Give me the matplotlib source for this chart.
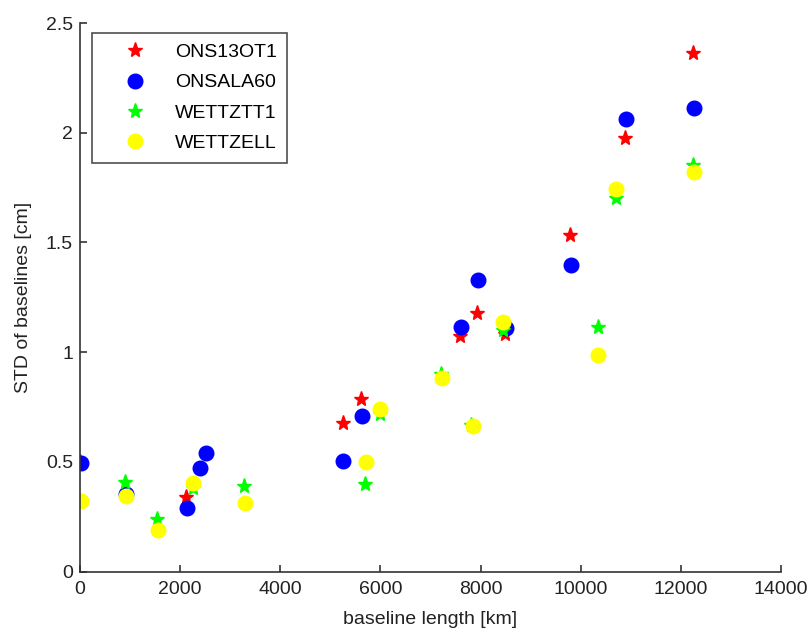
import matplotlib
matplotlib.use("Agg")
import matplotlib.pyplot as plt

plt.rcParams['font.family'] = ['Liberation Sans', 'DejaVu Sans']

# baseline length [km] / STD [cm] per station
ons13_x = [0, 2110, 5246, 5608, 7598, 7919, 8496, 9795, 10888, 12241]
ons13_y = [0.50, 0.339, 0.676, 0.787, 1.075, 1.180, 1.081, 1.534, 1.977, 2.364]

onsala_x = [14, 912, 2137, 2398, 2526, 5260, 5622, 7618, 7940, 8509, 9809, 10900, 12254]
onsala_y = [0.497, 0.356, 0.292, 0.474, 0.542, 0.504, 0.711, 1.116, 1.329, 1.112, 1.397, 2.062, 2.114]

wtz_x = [0, 905, 1541, 2250, 3270, 5700, 6000, 7200, 7800, 8450, 10338, 10700, 12241]
wtz_y = [0.32, 0.407, 0.240, 0.38, 0.392, 0.40, 0.72, 0.90, 0.67, 1.10, 1.116, 1.701, 1.853]

wettzell_x = [14, 918, 1554, 2265, 3296, 5708, 5997, 7222, 7839, 8442, 10352, 10700, 12254]
wettzell_y = [0.322, 0.345, 0.190, 0.403, 0.314, 0.498, 0.740, 0.884, 0.665, 1.139, 0.987, 1.742, 1.820]

xticks = [0, 2000, 4000, 6000, 8000, 10000, 12000, 14000]
yticks = [0, 0.5, 1, 1.5, 2, 2.5]
ytick_labels = ['0', '0.5', '1', '1.5', '2', '2.5']

fig = plt.figure(figsize=(8.07, 6.28), dpi=100)
ax = fig.add_axes([80 / 807, 56.3 / 628, 701 / 807, 548.7 / 628])

ax.plot(ons13_x, ons13_y, linestyle='none', marker='*', color='#ff0000',
        markersize=11, label='ONS13OT1')
ax.plot(onsala_x, onsala_y, linestyle='none', marker='o', color='#0000ff',
        markersize=10.5, label='ONSALA60')
ax.plot(wtz_x, wtz_y, linestyle='none', marker='*', color='#00ff00',
        markersize=11, label='WETTZTT1')
ax.plot(wettzell_x, wettzell_y, linestyle='none', marker='o', color='#ffff00',
        markersize=10.5, label='WETTZELL')

ax.set_xlim(0, 14000)
ax.set_ylim(0, 2.5)
ax.set_xticks(xticks)
ax.set_xticklabels([str(t) for t in xticks])
ax.set_yticks(yticks)
ax.set_yticklabels(ytick_labels)

for s in ['top', 'right']:
    ax.spines[s].set_visible(False)
for s in ['left', 'bottom']:
    ax.spines[s].set_color('#333333')
    ax.spines[s].set_linewidth(1.2)

ax.tick_params(direction='in', length=5, width=1.2, color='#333333',
               labelsize=14, labelcolor='#222222')
ax.tick_params(axis='x', pad=7)
ax.tick_params(axis='y', pad=5)

ax.set_xlabel('baseline length [km]', fontsize=14, color='#222222', labelpad=9)
ax.set_ylabel('STD of baselines [cm]', fontsize=14, color='#222222', labelpad=10)

leg = ax.legend(loc='upper left', bbox_to_anchor=(0.017, 0.982), numpoints=1,
                fontsize=14, frameon=True, fancybox=False, borderpad=0.55,
                handlelength=3.35, handletextpad=0.36, labelspacing=0.65,
                borderaxespad=0)
leg.get_frame().set_edgecolor('#222222')
leg.get_frame().set_linewidth(1.2)

fig.savefig('out.png', dpi=100)
